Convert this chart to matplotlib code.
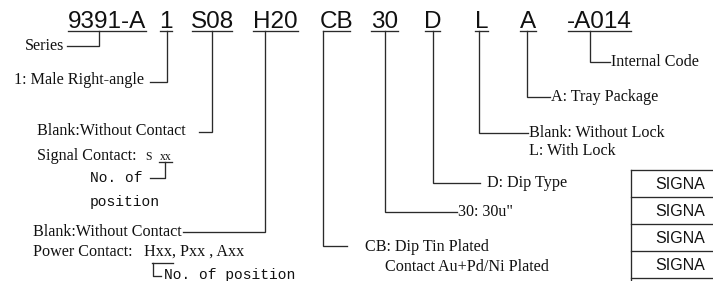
import matplotlib
matplotlib.use("Agg")
import matplotlib.pyplot as plt

# ---- content ----
codes = ["9391-A", "1", "S08", "H20", "CB", "30", "D", "L", "A", "-A014"]
labels = [
    ["Series"],
    ["1: Male Right-angle"],
    ["Blank:Without Contact"],
    ["Blank:Without Contact"],
    ["CB: Dip Tin Plated"],
    ["30: 30u\""],
    ["D: Dip Type"],
    ["Blank: Without Lock", "L: With Lock"],
    ["A: Tray Package"],
    ["Internal Code"],
]
signal_text = "Signal Contact:"
power_text = "Power Contact:"
power_codes = "Hxx, Pxx , Axx"
plating_text2 = "Contact Au+Pd/Ni Plated"
pos_note = ["No. of", "position"]
pos_note2 = "No. of position"
table_rows = ["SIGNA", "SIGNA", "SIGNA", "SIGNA"]

# ---- layout (pixels) ----
W, H = 713, 281
code_l = [68, 160, 192, 253, 323, 371, 425, 475, 520, 568]
code_r = [146, 172, 232, 298, 350, 398, 440, 488, 536, 631]
base_y = 27.5
ul_y = 31
lead_x = [99, 167, 212, 265, 323, 385, 433, 479, 527, 590]
lead_y = [46, 82, 132, 232, 246, 212, 183, 133, 97, 62]
lead_end = [67, 150, 199, 183, 347, 457, 480, 528, 550, 610]
lab_x = [64, 144, 37, 33, 365, 458, 487, 529, 551, 611]
lab_ha = ["right", "right", "left", "left", "left", "left", "left", "left", "left", "left"]
lab_dy = [0, -2, -1, 0, 1, 0, 0, 0, 0, 0]

line_c = "#2a2a2a"
txt_c = "#111111"
lw = 0.95
serif = ["Liberation Serif", "DejaVu Serif"]
mono = ["Liberation Mono", "DejaVu Sans Mono"]
sans = ["Liberation Sans", "DejaVu Sans"]
fs_lab = 11.6

fig = plt.figure(figsize=(W / 100, H / 100), dpi=100)
ax = fig.add_axes([0, 0, 1, 1])
ax.set_xlim(0, W)
ax.set_ylim(H, 0)
ax.axis("off")

for i, c in enumerate(codes):
    cx = (code_l[i] + code_r[i]) / 2
    ax.text(cx, base_y, c, ha="center", va="baseline", fontsize=17.5,
            family=sans, color=txt_c)
    ax.plot([code_l[i], code_r[i]], [ul_y, ul_y], color=line_c, lw=lw)
    ax.plot([lead_x[i], lead_x[i], lead_end[i]], [ul_y, lead_y[i], lead_y[i]],
            color=line_c, lw=lw, solid_joinstyle="miter")
    for j, t in enumerate(labels[i]):
        ax.text(lab_x[i], lead_y[i] + lab_dy[i] + j * 18, t, ha=lab_ha[i],
                va="center", fontsize=fs_lab, family=serif, color=txt_c)

# signal contact line
ax.text(37, 156, signal_text, ha="left", va="center", fontsize=fs_lab,
        family=serif, color=txt_c)
ax.text(145, 157, "S", ha="left", va="center", fontsize=8.5, family=serif,
        color=txt_c)
ax.text(166, 157, "xx", ha="center", va="center", fontsize=8.5, family=serif,
        color=txt_c)
ax.plot([159, 172], [162, 162], color=line_c, lw=lw)
ax.plot([165, 165, 150], [162, 178, 178], color=line_c, lw=lw)
ax.text(90, 178, pos_note[0], ha="left", va="center", fontsize=10.5,
        family=mono, color=txt_c)
ax.text(90, 202, pos_note[1], ha="left", va="center", fontsize=10.5,
        family=mono, color=txt_c)

# power contact line
ax.text(33, 252, power_text, ha="left", va="center", fontsize=fs_lab,
        family=serif, color=txt_c)
ax.text(144, 252, power_codes, ha="left", va="center", fontsize=fs_lab,
        family=serif, color=txt_c)
ax.plot([152, 173], [263, 263], color=line_c, lw=lw)
ax.plot([153, 153, 161], [263, 276, 276], color=line_c, lw=lw)
ax.text(164, 275.5, pos_note2, ha="left", va="center", fontsize=10.5,
        family=mono, color=txt_c)

# plating second line
ax.text(385, 267, plating_text2, ha="left", va="center", fontsize=fs_lab,
        family=serif, color=txt_c)

# partial table
tab_x = 631
tab_top = 170
row_h = 27
for k, r in enumerate(table_rows):
    y0 = tab_top + k * row_h
    ax.plot([tab_x, W + 5], [y0, y0], color=line_c, lw=lw)
    ax.text(655, y0 + row_h / 2 + 1, r, ha="left", va="center", fontsize=11.5,
            family=sans, color=txt_c)
y_end = tab_top + len(table_rows) * row_h
ax.plot([tab_x, W + 5], [y_end, y_end], color=line_c, lw=lw)
ax.plot([tab_x, tab_x], [tab_top, y_end + 5], color=line_c, lw=lw)

fig.savefig("out.png", dpi=100)
